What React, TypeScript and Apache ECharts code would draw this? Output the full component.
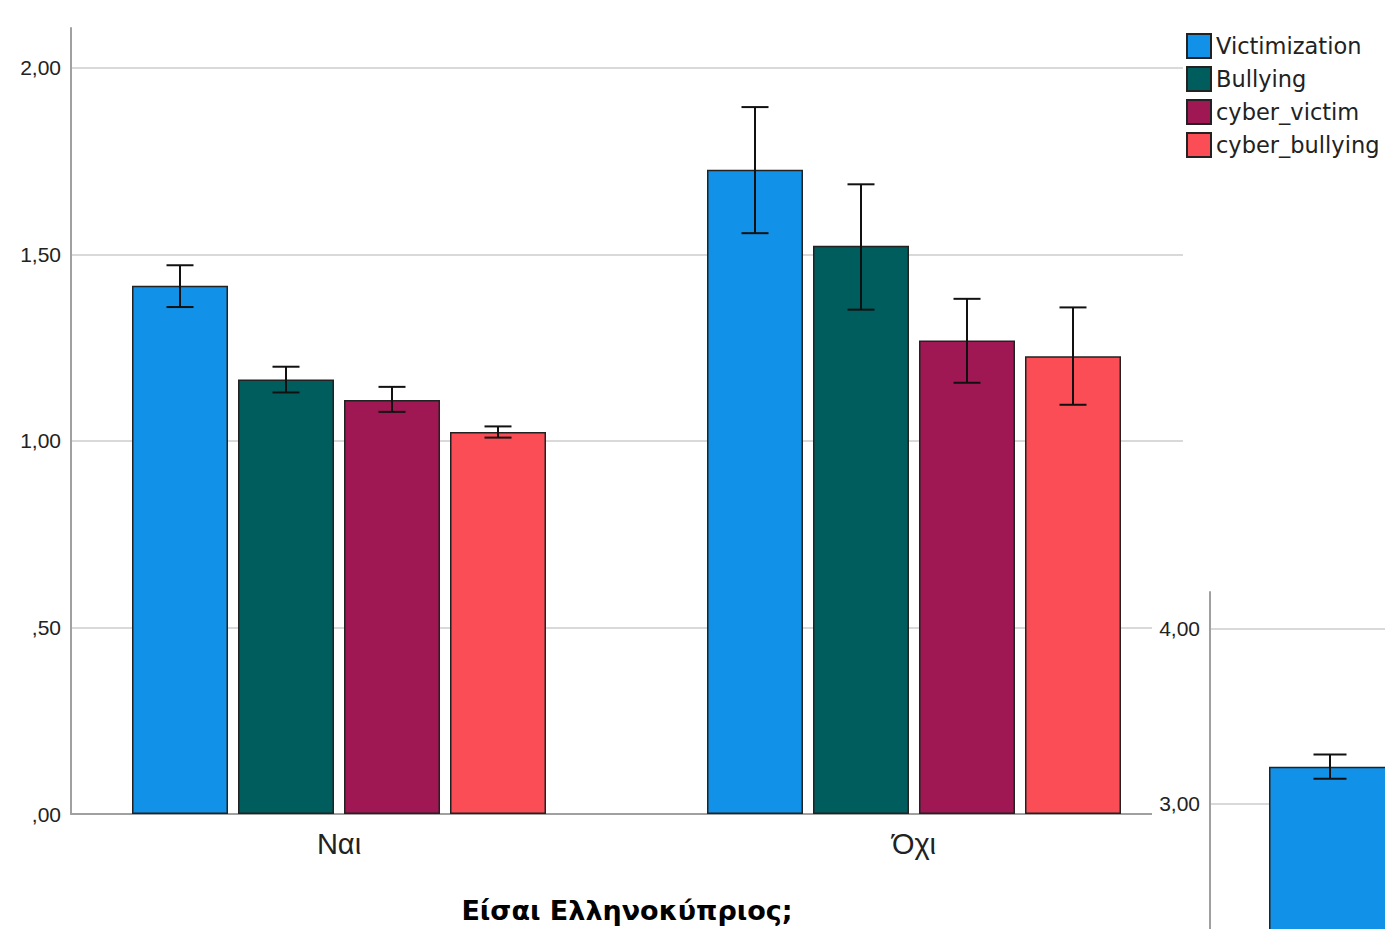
import React, { useEffect, useRef } from "react";
import * as echarts from "echarts";

// ---------- data ----------
const categories = ["Ναι", "Όχι"];
const seriesNames = ["Victimization", "Bullying", "cyber_victim", "cyber_bullying"];
const seriesColors = ["#1192e8", "#005d5d", "#9f1853", "#fa4d56"];

const victimization = [1.416, 1.727];
const victimizationLow = [1.359, 1.557];
const victimizationHigh = [1.471, 1.895];

const bullying = [1.165, 1.523];
const bullyingLow = [1.13, 1.352];
const bullyingHigh = [1.199, 1.688];

const cyberVictim = [1.11, 1.269];
const cyberVictimLow = [1.078, 1.156];
const cyberVictimHigh = [1.145, 1.381];

const cyberBullying = [1.024, 1.227];
const cyberBullyingLow = [1.009, 1.097];
const cyberBullyingHigh = [1.039, 1.358];

const yTickLabels = [",00", ",50", "1,00", "1,50", "2,00"];
const xTitle = "Είσαι Ελληνοκύπριος;";

// partially visible second chart (bottom right)
const insetCategories = [""];
const insetValue = [3.21];
const insetLow = [3.141];
const insetHigh = [3.28];
const insetTickLabels = [",00", "1,00", "2,00", "3,00", "4,00"];
const insetFirstVisibleTick = 3;

const values = [victimization, bullying, cyberVictim, cyberBullying];
const lows = [victimizationLow, bullyingLow, cyberVictimLow, cyberBullyingLow];
const highs = [victimizationHigh, bullyingHigh, cyberVictimHigh, cyberBullyingHigh];

const BAR_W = 96;
const BAR_GAP = 10;
const FONT_NUM = "'Liberation Sans', Arial, sans-serif";
const FONT_LEG = "'DejaVu Sans', Verdana, sans-serif";

function tickFormatter(labels: string[], step: number, minShown = -Infinity) {
  return (v: number) => {
    const idx = Math.round(v / step);
    if (Math.abs(v - idx * step) > 1e-6) return "";
    if (v < minShown - 1e-6) return "";
    return labels[idx] ?? "";
  };
}

function errorRender(offset: number, halfCap: number) {
  return (params: any, api: any) => {
    const x = api.value(0);
    const lo = api.coord([x, api.value(1)]);
    const hi = api.coord([x, api.value(2)]);
    const cx = lo[0] + offset;
    const style = { stroke: "#111", lineWidth: 2 };
    return {
      type: "group",
      children: [
        { type: "line", shape: { x1: cx, y1: lo[1], x2: cx, y2: hi[1] }, style },
        { type: "line", shape: { x1: cx - halfCap, y1: hi[1], x2: cx + halfCap, y2: hi[1] }, style },
        { type: "line", shape: { x1: cx - halfCap, y1: lo[1], x2: cx + halfCap, y2: lo[1] }, style },
      ],
    };
  };
}

export default function App() {
  const ref = useRef<HTMLDivElement>(null);

  useEffect(() => {
    if (!ref.current) return;
    const chart = echarts.init(ref.current, null, { renderer: "svg" });

    const barSeries = seriesNames.map((name, i) => ({
      name,
      type: "bar",
      xAxisIndex: 1,
      yAxisIndex: 1,
      barWidth: BAR_W,
      barGap: `${(BAR_GAP / BAR_W) * 100}%`,
      data: values[i],
      itemStyle: { color: seriesColors[i], borderColor: "#222", borderWidth: 1.5 },
      z: 2,
    }));

    const errSeries = seriesNames.map((name, i) => ({
      name: name + "_err",
      type: "custom",
      xAxisIndex: 1,
      yAxisIndex: 1,
      renderItem: errorRender((i - 1.5) * (BAR_W + BAR_GAP), 13.5),
      data: categories.map((_, c) => [c, lows[i][c], highs[i][c]]),
      z: 3,
      silent: true,
    }));

    const gridLine = { show: true, showMinLine: false, showMaxLine: false, lineStyle: { color: "#cdcdcd", width: 1.5 } };

    const option: any = {
      animation: false,
      backgroundColor: "#ffffff",
      legend: {
        data: seriesNames,
        orient: "vertical",
        left: 1186,
        top: 33,
        padding: 0,
        itemWidth: 24,
        itemHeight: 24,
        itemGap: 7,
        icon: "rect",
        textStyle: { fontFamily: FONT_LEG, fontSize: 22.5, color: "#222" },
      },
      grid: [
        { left: 71, top: 28, right: 202, bottom: 115, outerBoundsMode: "none", containLabel: false },
        { left: 51.5, top: 28, width: 1150, bottom: 115, outerBoundsMode: "none", containLabel: false },
        { left: 1210, top: 592, width: 240, height: 737, outerBoundsMode: "none", containLabel: false },
      ],
      xAxis: [
        {
          type: "category",
          gridIndex: 0,
          data: categories,
          axisLine: { show: true, lineStyle: { color: "#a0a0a0", width: 2 } },
          axisTick: { show: false },
          axisLabel: { show: false },
          splitLine: { show: false },
          name: xTitle,
          nameLocation: "middle",
          nameGap: 83,
          nameTextStyle: { fontFamily: FONT_LEG, fontSize: 27, fontWeight: "bold", color: "#000" },
        },
        {
          type: "category",
          gridIndex: 1,
          data: categories,
          axisLine: { show: false },
          axisTick: { show: false },
          splitLine: { show: false },
          axisLabel: { fontFamily: FONT_NUM, fontSize: 29, color: "#222", margin: 15 },
        },
        {
          type: "category",
          gridIndex: 2,
          data: insetCategories,
          show: false,
        },
      ],
      yAxis: [
        {
          type: "value",
          gridIndex: 0,
          min: 0,
          max: 2.107,
          interval: 0.5,
          axisLine: { show: true, lineStyle: { color: "#a0a0a0", width: 2 } },
          axisTick: { show: false },
          splitLine: gridLine,
          axisLabel: {
            fontFamily: FONT_NUM,
            fontSize: 21,
            color: "#222",
            margin: 10,
            showMaxLabel: false,
            padding: [12, 0, 0, 0],
            formatter: tickFormatter(yTickLabels, 0.5),
          },
        },
        { type: "value", gridIndex: 1, min: 0, max: 2.107, show: false },
        {
          type: "value",
          gridIndex: 2,
          min: 0,
          max: 4.207,
          interval: 1,
          z: 20,
          axisLine: { show: true, lineStyle: { color: "#a0a0a0", width: 2 } },
          axisTick: { show: false },
          splitLine: gridLine,
          axisLabel: {
            fontFamily: FONT_NUM,
            fontSize: 21,
            color: "#222",
            margin: 10,
            showMaxLabel: false,
            padding: [12, 0, 0, 0],
            formatter: tickFormatter(insetTickLabels, 1, insetFirstVisibleTick),
          },
        },
      ],
      graphic: [
        {
          type: "rect",
          z: 10,
          shape: { x: 1152, y: 590, width: 240, height: 345 },
          style: { fill: "#ffffff" },
          silent: true,
        },
      ],
      series: [
        ...barSeries,
        ...errSeries,
        {
          name: "inset",
          type: "bar",
          xAxisIndex: 2,
          yAxisIndex: 2,
          barWidth: 122,
          data: insetValue,
          itemStyle: { color: seriesColors[0], borderColor: "#222", borderWidth: 1.5 },
          z: 21,
        },
        {
          name: "inset_err",
          type: "custom",
          xAxisIndex: 2,
          yAxisIndex: 2,
          renderItem: errorRender(0, 16.5),
          data: insetCategories.map((_, c) => [c, insetLow[c], insetHigh[c]]),
          z: 22,
          silent: true,
        },
      ],
    };

    chart.setOption(option);
    return () => chart.dispose();
  }, []);

  return (
    <div
      ref={ref}
      style={{ position: "fixed", left: 0, top: 0, width: 1385, height: 929, background: "#fff" }}
    />
  );
}
